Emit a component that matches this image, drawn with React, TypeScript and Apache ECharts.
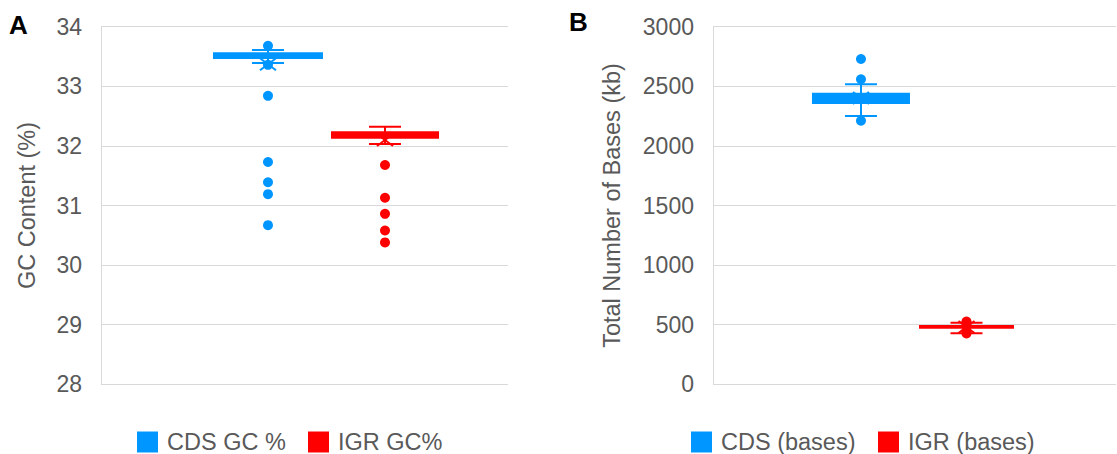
import React, { useEffect, useRef } from "react";
import * as echarts from "echarts";

// ---------- data ----------
const NAMES_A = ["CDS GC %", "IGR GC%"];
const NAMES_B = ["CDS (bases)", "IGR (bases)"];

// stats: [lowerWhisker, Q1, median, Q3, upperWhisker, mean]
const CDS_GC_STATS = [33.39, 33.46, 33.52, 33.57, 33.61, 33.37];
const IGR_GC_STATS = [32.03, 32.12, 32.18, 32.245, 32.32, 32.1];
const CDS_GC_POINTS = [33.68, 33.36, 32.84, 31.73, 31.39, 31.19, 30.67];
const IGR_GC_POINTS = [31.68, 31.13, 30.86, 30.58, 30.38];

const CDS_BASES_STATS = [2251, 2352, 2400, 2446, 2517, 2402];
const IGR_BASES_STATS = [428, 466, 481, 497, 517, 481];
const CDS_BASES_POINTS = [2729, 2559, 2211];
const IGR_BASES_POINTS = [527, 512, 445, 427];

const GC_AXIS = { min: 28, max: 34, interval: 1 };
const BASES_AXIS = { min: 0, max: 3000, interval: 500 };

// ---------- layout / style ----------
const BLUE = "#0096FF";
const RED = "#FF0000";
const GREY = "#595959";
const FONT = "'Liberation Sans', Arial, sans-serif";
const SLOT_A = [0.4103, 0.6978];
const SLOT_B = [0.3672, 0.629];
const BOXW_A = [110, 108];
const BOXW_B = [98, 95];

function makeBoxRender(slot: number, boxW: number, color: string) {
  return (_params: any, api: any) => {
    const v = (i: number) => api.value(i);
    const cx = api.coord([slot, v(2)])[0];
    const y = (val: number) => api.coord([slot, val])[1];
    const yLo = y(v(0));
    const yQ1 = y(v(1));
    const yMed = y(v(2));
    const yQ3 = y(v(3));
    const yHi = y(v(4));
    const yMean = y(v(5));
    const capW = 32;
    const ls = { stroke: color, lineWidth: 2 };
    return {
      type: "group",
      children: [
        { type: "line", shape: { x1: cx, y1: yHi, x2: cx, y2: yLo }, style: ls },
        { type: "line", shape: { x1: cx - capW / 2, y1: yHi, x2: cx + capW / 2, y2: yHi }, style: ls },
        { type: "line", shape: { x1: cx - capW / 2, y1: yLo, x2: cx + capW / 2, y2: yLo }, style: ls },
        {
          type: "rect",
          shape: { x: cx - boxW / 2, y: yQ3, width: boxW, height: Math.max(1, yQ1 - yQ3) },
          style: { fill: color },
        },
        { type: "line", shape: { x1: cx - boxW / 2, y1: yMed, x2: cx + boxW / 2, y2: yMed }, style: ls },
        { type: "line", shape: { x1: cx - 8, y1: yMean - 6, x2: cx + 8, y2: yMean + 6 }, style: ls },
        { type: "line", shape: { x1: cx - 8, y1: yMean + 6, x2: cx + 8, y2: yMean - 6 }, style: ls },
      ],
    };
  };
}

function boxSeries(name: string, idx: number, stats: number[], slot: number, boxW: number, color: string) {
  return {
    type: "custom",
    name,
    xAxisIndex: idx,
    yAxisIndex: idx,
    itemStyle: { color },
    renderItem: makeBoxRender(slot, boxW, color),
    data: [stats],
    z: 2,
  };
}

function pointSeries(name: string, idx: number, points: number[], slot: number, color: string) {
  return {
    type: "scatter",
    name,
    xAxisIndex: idx,
    yAxisIndex: idx,
    symbol: "circle",
    symbolSize: 10,
    itemStyle: { color, opacity: 1 },
    data: points.map((p) => [slot, p]),
    z: 3,
  };
}

function yAxis(idx: number, ax: { min: number; max: number; interval: number }, name: string, nameGap: number) {
  return {
    type: "value",
    gridIndex: idx,
    min: ax.min,
    max: ax.max,
    interval: ax.interval,
    name,
    nameLocation: "middle",
    nameGap,
    nameTextStyle: { fontSize: 23.5, color: GREY, fontFamily: FONT },
    axisLine: { show: true, lineStyle: { color: "#D9D9D9", width: 1 } },
    axisTick: { show: false },
    axisLabel: {
      fontSize: 23,
      color: GREY,
      fontFamily: FONT,
      margin: 19,
      formatter: (val: number) => String(val),
    },
    splitLine: { show: true, lineStyle: { color: "#D9D9D9", width: 1 } },
  };
}

function legend(name: string, left: number) {
  return {
    data: [name],
    left,
    top: 430,
    padding: 0,
    icon: "rect",
    itemWidth: 21,
    itemHeight: 21,
    itemGap: 0,
    textStyle: { fontSize: 23.5, color: GREY, fontFamily: FONT, padding: [0, 0, 0, 4] },
  };
}

export default function App() {
  const ref = useRef<HTMLDivElement>(null);
  useEffect(() => {
    if (!ref.current) return;
    const chart = echarts.init(ref.current, null, { renderer: "svg" });
    chart.setOption({
      animation: false,
      backgroundColor: "#FFFFFF",
      textStyle: { fontFamily: FONT },
      title: [
        { text: "A", left: 9, top: 12, padding: 0, textStyle: { fontSize: 26, fontWeight: "bold", color: "#000", fontFamily: FONT } },
        { text: "B", left: 569, top: 9, padding: 0, textStyle: { fontSize: 26, fontWeight: "bold", color: "#000", fontFamily: FONT } },
      ],
      legend: [
        legend(NAMES_A[0], 137),
        legend(NAMES_A[1], 308),
        legend(NAMES_B[0], 691),
        legend(NAMES_B[1], 878),
      ],
      grid: [
        { left: 101, top: 26.7, width: 407, bottom: 69.7, containLabel: false },
        { left: 713, top: 26.7, width: 403, bottom: 69.7, containLabel: false },
      ],
      xAxis: [
        { type: "value", gridIndex: 0, min: 0, max: 1, show: false },
        { type: "value", gridIndex: 1, min: 0, max: 1, show: false },
      ],
      yAxis: [
        yAxis(0, GC_AXIS, "GC Content (%)", 62.5),
        yAxis(1, BASES_AXIS, "Total Number of Bases (kb)", 89.5),
      ],
      series: [
        boxSeries(NAMES_A[0], 0, CDS_GC_STATS, SLOT_A[0], BOXW_A[0], BLUE),
        boxSeries(NAMES_A[1], 0, IGR_GC_STATS, SLOT_A[1], BOXW_A[1], RED),
        pointSeries(NAMES_A[0], 0, CDS_GC_POINTS, SLOT_A[0], BLUE),
        pointSeries(NAMES_A[1], 0, IGR_GC_POINTS, SLOT_A[1], RED),
        boxSeries(NAMES_B[0], 1, CDS_BASES_STATS, SLOT_B[0], BOXW_B[0], BLUE),
        boxSeries(NAMES_B[1], 1, IGR_BASES_STATS, SLOT_B[1], BOXW_B[1], RED),
        pointSeries(NAMES_B[0], 1, CDS_BASES_POINTS, SLOT_B[0], BLUE),
        pointSeries(NAMES_B[1], 1, IGR_BASES_POINTS, SLOT_B[1], RED),
      ],
    });
    return () => chart.dispose();
  }, []);
  return (
    <div
      ref={ref}
      style={{ position: "fixed", left: 0, top: 0, width: 1117, height: 454, background: "#fff" }}
    />
  );
}
